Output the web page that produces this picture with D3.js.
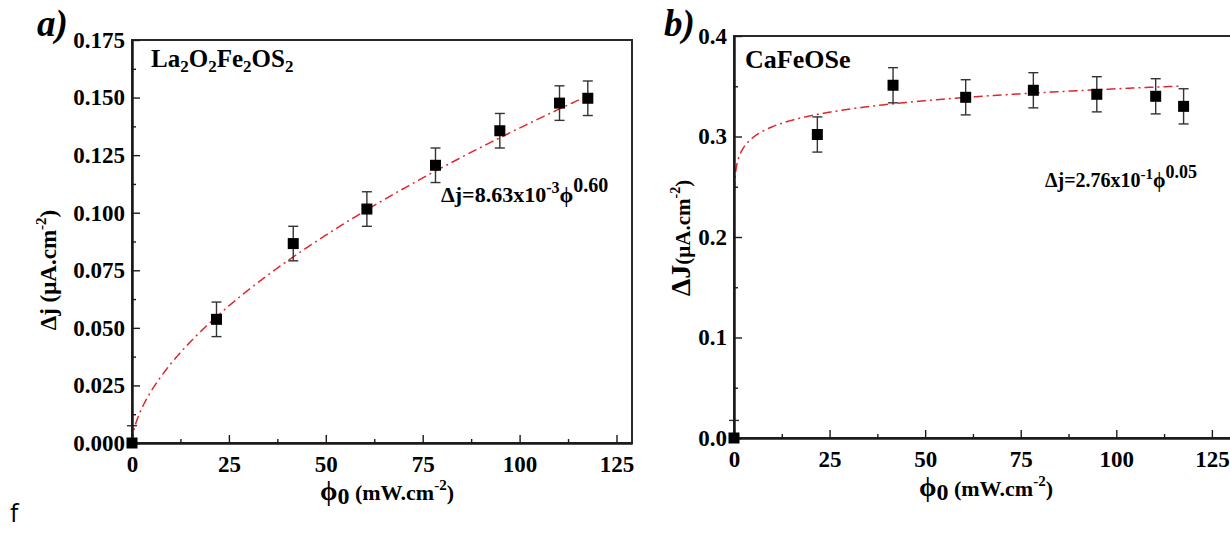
<!DOCTYPE html>
<html><head><meta charset="utf-8">
<script src="https://cdn.jsdelivr.net/npm/d3@7"></script>
<style>
body{margin:0;background:#fff}
svg{display:block}
text{font-family:"Liberation Serif","Times New Roman",serif;font-weight:bold;fill:#000}
</style>
</head><body>
<svg id="c" width="1230" height="533"></svg>
<script>
// ---- data ----
const phiA = [0, 21.8, 41.6, 60.6, 78.3, 94.9, 110.3, 117.6];
const djA  = [0, 0.0537, 0.0866, 0.1016, 0.1206, 0.1356, 0.1476, 0.1497];
const errA = [0.0075, 0.0075, 0.0075, 0.0075, 0.0075, 0.0075, 0.0075, 0.0075];
const fitA = [8.63e-3, 0.60];          // coefficient, exponent
const fitRangeA = [0, 116.5];

const phiB = [0, 21.8, 41.6, 60.6, 78.3, 94.9, 110.3, 117.6];
const djB  = [0, 0.302, 0.351, 0.339, 0.346, 0.342, 0.340, 0.330];
const errB = [0.0175, 0.0175, 0.0175, 0.0175, 0.0175, 0.0175, 0.0175, 0.0175];
const fitB = [2.76e-1, 0.05];
const fitRangeB = [0.1, 116.5];

const xTicks = [0, 25, 50, 75, 100, 125];
const xMinor = [12.5, 37.5, 62.5, 87.5, 112.5];
const yTicksA = [0, 0.025, 0.05, 0.075, 0.1, 0.125, 0.15, 0.175];
const yMinorA = [0.0125, 0.0375, 0.0625, 0.0875, 0.1125, 0.1375, 0.1625];
const yTicksB = [0, 0.1, 0.2, 0.3, 0.4];
const yMinorB = [0.05, 0.15, 0.25, 0.35];

const svg = d3.select("#c");

function panel(cfg) {
  const x = d3.scaleLinear().domain([0, cfg.xmax]).range([cfg.left, cfg.right]);
  const y = d3.scaleLinear().domain([0, cfg.ymax]).range([cfg.bottom, cfg.top]);
  const g = svg.append("g");

  // frame (top & right)
  g.append("rect").attr("x", cfg.left).attr("y", cfg.top)
    .attr("width", cfg.right - cfg.left).attr("height", cfg.bottom - cfg.top)
    .attr("fill", "none").attr("stroke", "#2a2a2a").attr("stroke-width", 2);

  // fit curve
  const fp = d3.range(0, 401).map(i => {
    const p = cfg.fitRange[0] + (cfg.fitRange[1] - cfg.fitRange[0]) * Math.pow(i / 400, 2);
    return [p, cfg.fit[0] * Math.pow(p, cfg.fit[1])];
  });
  g.append("path").datum(fp)
    .attr("d", d3.line().x(d => x(d[0])).y(d => y(d[1])))
    .attr("fill", "none").attr("stroke", "#e0262c").attr("stroke-width", 1.5)
    .attr("stroke-dasharray", "9,4,2,4");

  // error bars
  const eb = g.append("g").attr("stroke", "#333").attr("stroke-width", 1.4);
  cfg.phi.forEach((p, i) => {
    const cx = x(p), y1 = y(cfg.dj[i] + cfg.err[i]);
    eb.append("line").attr("x1", cx).attr("x2", cx).attr("y1", y1).attr("y2", i === 0 ? y(cfg.dj[i]) : y(cfg.dj[i] - cfg.err[i]));
    eb.append("line").attr("x1", cx - 5).attr("x2", cx + 5).attr("y1", y1).attr("y2", y1);
    if (i !== 0) {
      const yb = y(cfg.dj[i] - cfg.err[i]);
      eb.append("line").attr("x1", cx - 5).attr("x2", cx + 5).attr("y1", yb).attr("y2", yb);
    }
  });

  // axes
  const xa = g.append("g").attr("transform", `translate(0,${cfg.bottom})`)
    .call(d3.axisBottom(x).tickValues(xTicks).tickSize(-8).tickSizeOuter(0).tickPadding(7).tickFormat(d3.format("d")));
  const xm = g.append("g").attr("transform", `translate(0,${cfg.bottom})`)
    .call(d3.axisBottom(x).tickValues(xMinor).tickSize(-4).tickSizeOuter(0).tickFormat(""));
  const ya = g.append("g").attr("transform", `translate(${cfg.left},0)`)
    .call(d3.axisLeft(y).tickValues(cfg.yTicks).tickSize(-8).tickSizeOuter(0).tickPadding(7).tickFormat(d3.format(cfg.fmt)));
  const ym = g.append("g").attr("transform", `translate(${cfg.left},0)`)
    .call(d3.axisLeft(y).tickValues(cfg.yMinor).tickSize(-4).tickSizeOuter(0).tickFormat(""));
  [xa, xm, ya, ym].forEach(a => {
    a.selectAll("path").attr("stroke", "#1a1a1a").attr("stroke-width", 2);
    a.selectAll("line").attr("stroke", "#1a1a1a").attr("stroke-width", 1.4);
    a.selectAll("text").attr("font-size", 23).attr("font-family", null).attr("fill", "#000");
  });
  xa.selectAll("text").attr("dy", "0.95em");

  // markers
  g.append("g").selectAll("rect").data(cfg.phi).join("rect")
    .attr("x", (d) => x(d) - 5.5).attr("y", (d, i) => y(cfg.dj[i]) - 5.5)
    .attr("width", 11).attr("height", 11).attr("fill", "#000");

  return {x, y};
}

panel({left: 132, right: 632, top: 40, bottom: 443, xmax: 129, ymax: 0.175,
  phi: phiA, dj: djA, err: errA, fit: fitA, fitRange: fitRangeA,
  yTicks: yTicksA, yMinor: yMinorA, fmt: ".3f"});
panel({left: 734, right: 1231, top: 36, bottom: 438, xmax: 130, ymax: 0.4,
  phi: phiB, dj: djB, err: errB, fit: fitB, fitRange: fitRangeB,
  yTicks: yTicksB, yMinor: yMinorB, fmt: ".1f"});

// ---- text ----
function rich(parent, x, y, parts, size, extra) {
  const t = parent.append("text").attr("x", x).attr("y", y).attr("font-size", size);
  if (extra) extra(t);
  let shift = 0;
  parts.forEach(p => {
    const s = p.s || 0;
    const ts = t.append("tspan").text(p.t).attr("dy", s - shift);
    if (p.fs) ts.attr("font-size", p.fs);
    shift = s;
  });
  return t;
}

// panel labels
svg.append("text").attr("x", 37).attr("y", 36).attr("font-size", 37).attr("font-style", "italic").text("a)");
svg.append("text").attr("x", 664).attr("y", 36).attr("font-size", 37).attr("font-style", "italic").text("b)");

// inner titles
rich(svg, 151, 67, [{t: "La"}, {t: "2", fs: 17, s: 5}, {t: "O"}, {t: "2", fs: 17, s: 5}, {t: "Fe"}, {t: "2", fs: 17, s: 5}, {t: "OS"}, {t: "2", fs: 17, s: 5}], 25);
svg.append("text").attr("x", 745).attr("y", 68).attr("font-size", 26).text("CaFeOSe");

// formulas
rich(svg, 441, 202, [{t: "\u0394j=8.63x10"}, {t: "-3", fs: 16, s: -9}, {t: "\u03D5", s: 0}, {t: "0.60", fs: 20, s: -10}], 22);
rich(svg, 1045, 187, [{t: "\u0394j=2.76x10"}, {t: "-1", fs: 15, s: -8}, {t: "\u03D5", s: 0}, {t: "0.05", fs: 18, s: -9}], 20);

// x titles
rich(svg, 387, 500, [{t: "\u03D5", fs: 28}, {t: "0", fs: 24, s: 4}, {t: " (mW.cm", s: 0}, {t: "-2", fs: 15, s: -10}, {t: ")", s: 0}], 22, t => t.attr("text-anchor", "middle"));
rich(svg, 986, 496, [{t: "\u03D5", fs: 28}, {t: "0", fs: 24, s: 4}, {t: " (mW.cm", s: 0}, {t: "-2", fs: 15, s: -10}, {t: ")", s: 0}], 22, t => t.attr("text-anchor", "middle"));

// y titles
rich(svg, 0, 0, [{t: "\u0394j (\u03BCA.cm"}, {t: "-2", fs: 15, s: -10}, {t: ")", s: 0}], 23,
  t => t.attr("text-anchor", "middle").attr("transform", "translate(56,270) rotate(-90)"));
rich(svg, 0, 0, [{t: "\u0394J", fs: 28}, {t: "(\u03BCA.cm", fs: 21}, {t: "-2", fs: 14, s: -10}, {t: ")", fs: 21, s: 0}], 22,
  t => t.attr("text-anchor", "middle").attr("transform", "translate(690,238) rotate(-90)"));

// stray label
svg.append("text").attr("x", 10).attr("y", 522).style("font-size", "25px")
  .style("font-family", "'Open Sans', 'Liberation Sans', sans-serif").style("font-weight", "normal").text("f");
</script>
</body></html>
